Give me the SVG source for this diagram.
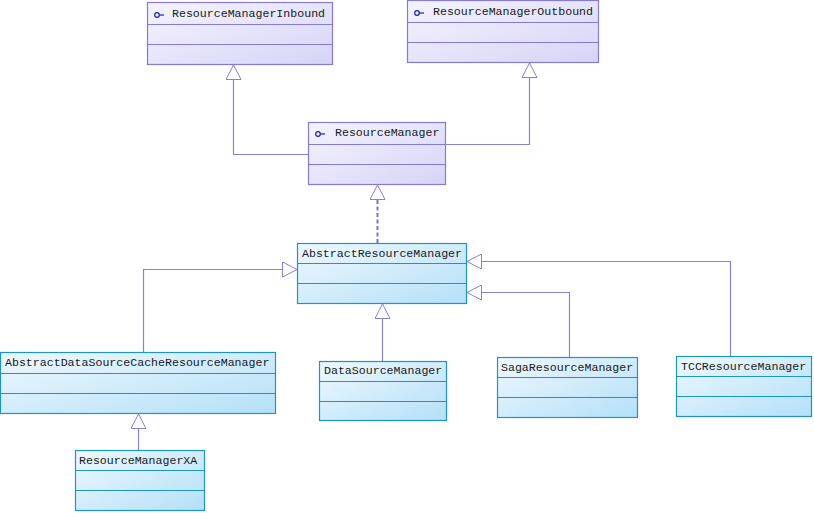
<svg xmlns="http://www.w3.org/2000/svg" width="814" height="513" viewBox="0 0 814 513">
<defs>
<linearGradient id="gi" x1="0" y1="0" x2="1" y2="1">
<stop offset="0" stop-color="#f4f4ff"/>
<stop offset="1" stop-color="#d6d4f6"/>
</linearGradient>
<linearGradient id="gc" x1="0" y1="0" x2="1" y2="1">
<stop offset="0" stop-color="#eef8fe"/>
<stop offset="1" stop-color="#b4e0f8"/>
</linearGradient>
<marker id="tri" viewBox="0 0 16 16" refX="15" refY="8" markerWidth="16" markerHeight="16" markerUnits="userSpaceOnUse" orient="auto">
<path d="M0.5,0.5 L15,8 L0.5,15.5 Z" fill="#ffffff" stroke="#8a80d8" stroke-width="1" stroke-dasharray="none"/>
</marker>
</defs>
<style>
.iface rect{fill:url(#gi);stroke:#8878d8;stroke-width:1.2}
.iface line{stroke:#8878d8;stroke-width:1.2}
.cls rect{fill:url(#gc);stroke:#1c94cc;stroke-width:1.2}
.cls line{stroke:#1c94cc;stroke-width:1.2}
text{font-family:"Liberation Mono","DejaVu Sans Mono",monospace;font-size:11.6px;fill:#1a1a1a}
.ico{fill:none;stroke:#2020b0;stroke-width:1.2}
.conn path{fill:none;stroke:#8a80d8;stroke-width:1.2}
.conn path.dash{stroke:#7a70e0;stroke-width:2;stroke-dasharray:4,2.5}
</style>

<g id="ResourceManagerInbound" class="iface">
<rect x="147.5" y="2.5" width="185" height="62"/>
<line x1="147.5" y1="24.5" x2="332.5" y2="24.5"/>
<line x1="147.5" y1="44.5" x2="332.5" y2="44.5"/>
<circle class="ico" cx="157" cy="15" r="2.3"/><path class="ico" d="M159.3,15 H164"/>
<text x="172" y="17">ResourceManagerInbound</text>
</g>

<g id="ResourceManagerOutbound" class="iface">
<rect x="407.5" y="0.5" width="191" height="62"/>
<line x1="407.5" y1="22.5" x2="598.5" y2="22.5"/>
<line x1="407.5" y1="42.5" x2="598.5" y2="42.5"/>
<circle class="ico" cx="417" cy="13" r="2.3"/><path class="ico" d="M419.3,13 H424"/>
<text x="433" y="15">ResourceManagerOutbound</text>
</g>

<g id="ResourceManager" class="iface">
<rect x="308.5" y="122.5" width="137" height="62"/>
<line x1="308.5" y1="144.5" x2="445.5" y2="144.5"/>
<line x1="308.5" y1="164.5" x2="445.5" y2="164.5"/>
<circle class="ico" cx="318" cy="134" r="2.3"/><path class="ico" d="M320.3,134 H325"/>
<text x="335" y="136">ResourceManager</text>
</g>

<g id="AbstractResourceManager" class="cls">
<rect x="297.5" y="243.5" width="169" height="60"/>
<line x1="297.5" y1="263.5" x2="466.5" y2="263.5"/>
<line x1="297.5" y1="283.5" x2="466.5" y2="283.5"/>
<text x="302" y="257">AbstractResourceManager</text>
</g>

<g id="AbstractDataSourceCacheResourceManager" class="cls">
<rect x="0.5" y="352.5" width="275" height="61"/>
<line x1="0.5" y1="373.5" x2="275.5" y2="373.5"/>
<line x1="0.5" y1="393.5" x2="275.5" y2="393.5"/>
<text x="5" y="366">AbstractDataSourceCacheResourceManager</text>
</g>

<g id="DataSourceManager" class="cls">
<rect x="319.5" y="361.5" width="127" height="59"/>
<line x1="319.5" y1="381.5" x2="446.5" y2="381.5"/>
<line x1="319.5" y1="401.5" x2="446.5" y2="401.5"/>
<text x="324" y="374">DataSourceManager</text>
</g>

<g id="SagaResourceManager" class="cls">
<rect x="497.5" y="357.5" width="140" height="60"/>
<line x1="497.5" y1="377.5" x2="637.5" y2="377.5"/>
<line x1="497.5" y1="397.5" x2="637.5" y2="397.5"/>
<text x="501" y="371">SagaResourceManager</text>
</g>

<g id="TCCResourceManager" class="cls">
<rect x="676.5" y="356.5" width="135" height="60"/>
<line x1="676.5" y1="376.5" x2="811.5" y2="376.5"/>
<line x1="676.5" y1="396.5" x2="811.5" y2="396.5"/>
<text x="681" y="370">TCCResourceManager</text>
</g>

<g id="ResourceManagerXA" class="cls">
<rect x="75.5" y="450.5" width="129" height="60"/>
<line x1="75.5" y1="470.5" x2="204.5" y2="470.5"/>
<line x1="75.5" y1="490.5" x2="204.5" y2="490.5"/>
<text x="79" y="464">ResourceManagerXA</text>
</g>

<g id="connectors" class="conn">
<path d="M308.5,154.5 H233.5 V65" marker-end="url(#tri)"/>
<path d="M445.5,144.5 H529.5 V63" marker-end="url(#tri)"/>
<path class="dash" d="M377.5,243 V185" marker-end="url(#tri)"/>
<path d="M143.5,352 V269.5 H297" marker-end="url(#tri)"/>
<path d="M382.5,361 V304" marker-end="url(#tri)"/>
<path d="M569.5,357 V292.5 H467" marker-end="url(#tri)"/>
<path d="M730.5,356 V261.5 H467" marker-end="url(#tri)"/>
<path d="M138.5,450 V414" marker-end="url(#tri)"/>
</g>
</svg>
